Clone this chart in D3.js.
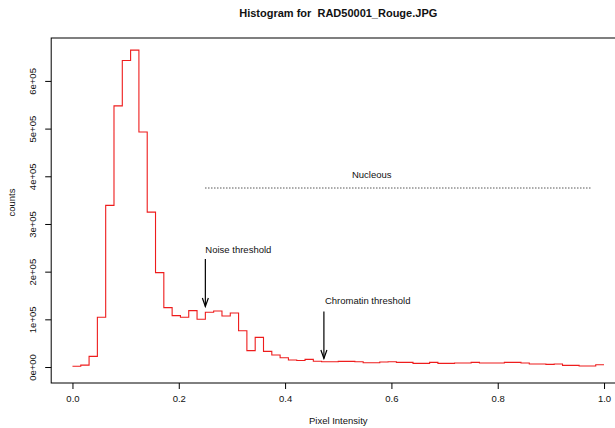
<!DOCTYPE html>
<html>
<head>
<meta charset="utf-8">
<script src="https://cdn.jsdelivr.net/npm/d3@7"></script>
<style>
  body { margin: 0; background: #fff; }
  svg text { font-family: "Liberation Sans", Arial, Helvetica, sans-serif; fill: #111; }
</style>
</head>
<body>
<div id="chart"></div>
<script>
// histogram counts, 64 bins of width 1/64 on [0, 1]
const binWidth = 1 / 64;
const counts = [
    1500, 4000, 22400, 104300, 338900, 547600, 642900, 664600,
    493000, 324900, 198000, 124600, 107800, 104300, 118300, 100100,
    114800, 117600, 107100, 113400, 76000, 34300, 62200, 32900,
    25200, 19600, 14700, 13800, 16100, 12200, 11200, 11200,
    11900, 11900, 11200, 9100, 9100, 10500, 11200, 9800,
    9800, 7700, 7700, 9800, 7700, 7700, 8400, 8400,
    9800, 8400, 8400, 8400, 9800, 9800, 8400, 6300,
    6300, 5600, 6300, 3500, 3500, 2100, 2100, 4900
];
const xTicks = [0, 0.2, 0.4, 0.6, 0.8, 1.0];
const yTicks = [0, 100000, 200000, 300000, 400000, 500000, 600000];

// annotations
const noiseThreshold = 0.25;
const chromatinThreshold = 0.473;
const nucleousRange = [0.25, 0.975];

const width = 615, height = 428;
const margin = {top: 38, left: 51.2, bottom: 45};
const fs = 9.5;

const svg = d3.select("#chart")
    .append("svg")
    .attr("width", width)
    .attr("height", height);

const x = d3.scaleLinear()
    .domain([-0.04, 1.04])
    .range([margin.left, 625.3]);

const y = d3.scaleLinear()
    .domain([-33500, 690000])
    .range([height - margin.bottom, margin.top]);

// plot box
svg.append("rect")
    .attr("x", x(-0.04))
    .attr("y", y(690000))
    .attr("width", x(1.04) - x(-0.04))
    .attr("height", y(-33500) - y(690000))
    .attr("fill", "none")
    .attr("stroke", "#000")
    .attr("stroke-width", 1);

// x axis
const xAxis = svg.append("g")
    .attr("transform", `translate(0, ${y(-33500)})`)
    .call(d3.axisBottom(x).tickValues(xTicks).tickFormat(d3.format(".1f")).tickSize(6).tickPadding(6));
xAxis.select(".domain").remove();
xAxis.selectAll("text").attr("font-size", fs).attr("font-family", null);

// y axis, labels rotated like R
const yAxis = svg.append("g")
    .attr("transform", `translate(${x(-0.04)}, 0)`)
    .call(d3.axisLeft(y).tickValues(yTicks).tickSize(6).tickFormat(d => d3.format(".0e")(d).replace(/e([+-])(\d)$/, "e$10$2")));
yAxis.select(".domain").remove();
yAxis.selectAll("text")
    .attr("font-size", fs)
    .attr("font-family", null)
    .attr("text-anchor", "middle")
    .attr("x", null)
    .attr("dy", null)
    .attr("transform", "translate(-15.5,0) rotate(-90)");

// step line
const pts = counts.map((c, i) => [i * binWidth, c]);
pts.push([counts.length * binWidth, counts[counts.length - 1]]);
svg.append("path")
    .datum(pts)
    .attr("fill", "none")
    .attr("stroke", "#ee1c1c")
    .attr("stroke-width", 1.1)
    .attr("d", d3.line()
        .x(d => x(d[0]))
        .y(d => y(d[1]))
        .curve(d3.curveStepAfter));

// titles
svg.append("text")
    .attr("x", x(0.5))
    .attr("y", 17)
    .attr("text-anchor", "middle")
    .attr("font-size", 11)
    .attr("font-weight", "bold")
    .attr("xml:space", "preserve")
    .text("Histogram for  RAD50001_Rouge.JPG");

svg.append("text")
    .attr("x", x(0.5))
    .attr("y", 423.5)
    .attr("text-anchor", "middle")
    .attr("font-size", fs)
    .text("Pixel Intensity");

svg.append("text")
    .attr("transform", `translate(14.5, ${y(345000)}) rotate(-90)`)
    .attr("text-anchor", "middle")
    .attr("font-size", fs)
    .text("counts");

// arrows
function arrow(xv, y0, y1) {
    const g = svg.append("g").attr("stroke", "#000").attr("stroke-width", 1.2).attr("fill", "none");
    const px = x(xv);
    g.append("line").attr("x1", px).attr("x2", px).attr("y1", y0).attr("y2", y1);
    g.append("path").attr("d", `M${px - 3},${y1 - 8.5}L${px},${y1}L${px + 3},${y1 - 8.5}`);
}

arrow(noiseThreshold, 259, 306.5);
svg.append("text")
    .attr("x", x(noiseThreshold))
    .attr("y", 253)
    .attr("font-size", fs)
    .text("Noise threshold");

arrow(chromatinThreshold, 311.5, 358.5);
svg.append("text")
    .attr("x", x(chromatinThreshold) + 1)
    .attr("y", 304)
    .attr("font-size", fs)
    .text("Chromatin threshold");

// nucleous range
svg.append("line")
    .attr("x1", x(nucleousRange[0]))
    .attr("x2", x(nucleousRange[1]))
    .attr("y1", 188)
    .attr("y2", 188)
    .attr("stroke", "#000")
    .attr("stroke-width", 1)
    .attr("stroke-dasharray", "1,2");

svg.append("text")
    .attr("x", x(0.563))
    .attr("y", 178)
    .attr("text-anchor", "middle")
    .attr("font-size", fs)
    .text("Nucleous");
</script>
</body>
</html>
